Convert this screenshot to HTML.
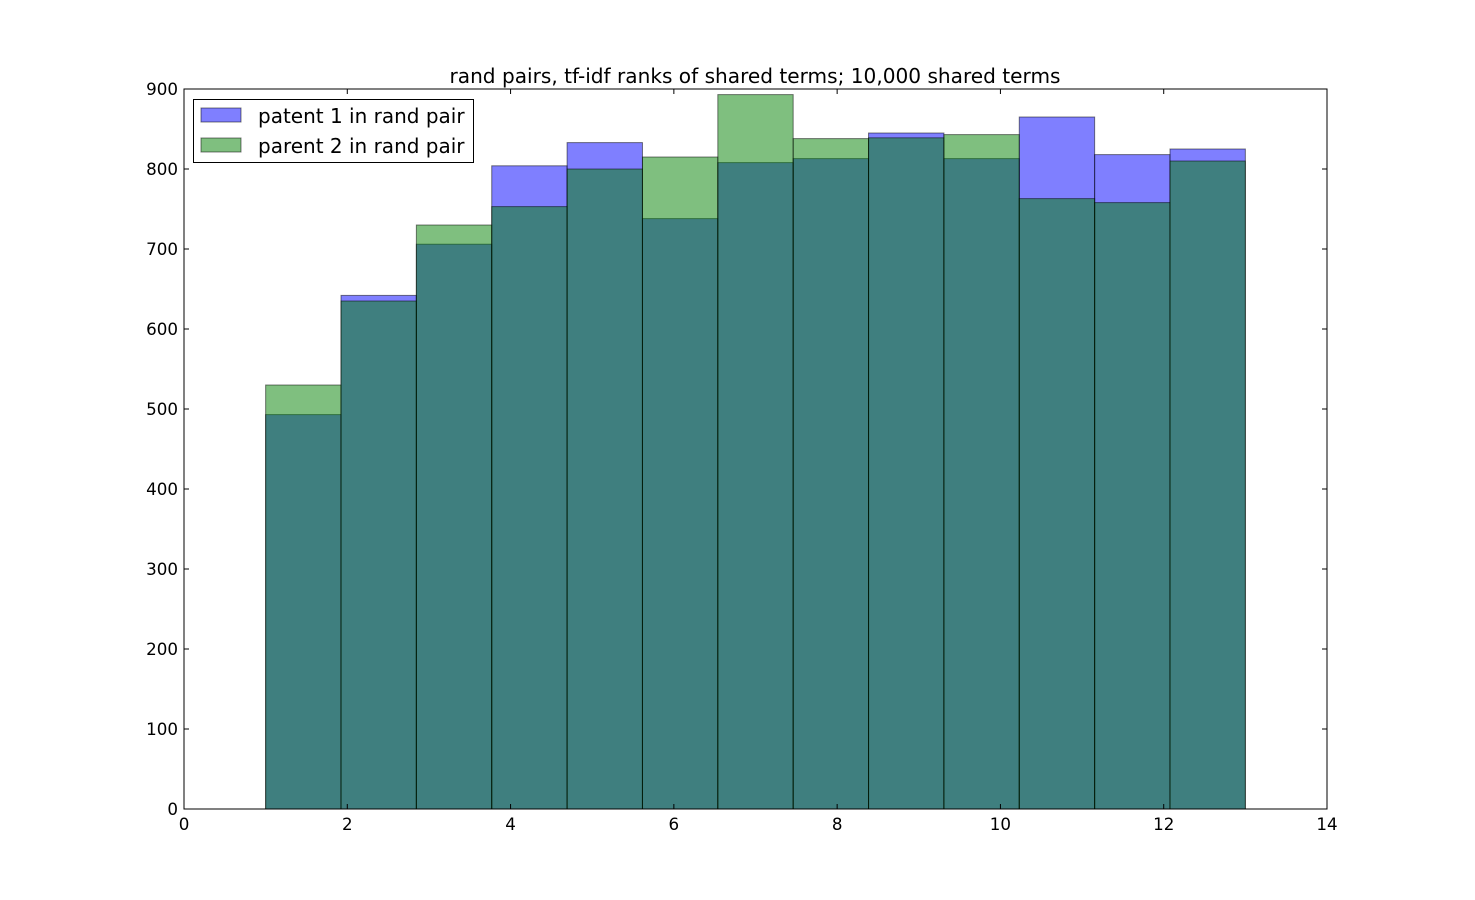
<!DOCTYPE html>
<html><head><meta charset="utf-8"><style>
body{margin:0;background:#fff;}
svg{display:block;font-family:"DejaVu Sans","Liberation Sans",sans-serif;}
</style></head><body>
<svg id="chart" width="1475" height="900">
<rect width="1475" height="900" fill="#fff"/>
<text x="755" y="83" font-size="20.1" text-anchor="middle">rand pairs, tf-idf ranks of shared terms; 10,000 shared terms</text>
<g id="bars"></g>
<rect x="184" y="89" width="1143" height="720" fill="none" stroke="#000" stroke-width="1"/>
<g id="ticks"></g>
<g>
<rect x="193.5" y="99.5" width="280" height="63" fill="#fff" stroke="#000"/>
<rect x="201" y="108" width="40" height="14" fill="rgba(0,0,255,0.5)" stroke="rgba(0,0,0,0.5)"/>
<text x="258" y="123" font-size="20">patent 1 in rand pair</text>
<rect x="201" y="138" width="40" height="14" fill="rgba(0,128,0,0.5)" stroke="rgba(0,0,0,0.5)"/>
<text x="258" y="153" font-size="20">parent 2 in rand pair</text>
</g>
</svg>
<script>
const binStart = 1, binEnd = 13, binCount = 13;
const patent1Values = [493,642,706,804,833,738,808,813,845,813,865,818,825];
const parent2Values = [530,635,730,753,800,815,893,838,839,843,763,758,810];
const xTicks = [0,2,4,6,8,10,12,14];
const yTicks = [0,100,200,300,400,500,600,700,800,900];
const NS="http://www.w3.org/2000/svg";
const X0=184,X1=1327,Y0=809,Y1=89;
const xs=v=>X0+(v-0)/14*(X1-X0);
const ys=v=>Y0-(v-0)/900*(Y0-Y1);
const bars=document.getElementById('bars');
const w=(binEnd-binStart)/binCount;
function drawSeries(vals,fill,name){
  vals.forEach((v,i)=>{
    const r=document.createElementNS(NS,'rect');
    const a=xs(binStart+i*w), b=xs(binStart+(i+1)*w);
    r.setAttribute('x',a);r.setAttribute('width',b-a);
    r.setAttribute('y',ys(v));r.setAttribute('height',Y0-ys(v));
    r.setAttribute('fill',fill);r.setAttribute('stroke','rgba(0,0,0,0.5)');
    
    
    bars.appendChild(r);
  });
}
drawSeries(patent1Values,'rgba(0,0,255,0.5)','patent1');
drawSeries(parent2Values,'rgba(0,128,0,0.5)','parent2');
const tg=document.getElementById('ticks');
function line(x1,y1,x2,y2){const l=document.createElementNS(NS,'line');l.setAttribute('x1',x1);l.setAttribute('y1',y1);l.setAttribute('x2',x2);l.setAttribute('y2',y2);l.setAttribute('stroke','#000');


tg.appendChild(l);}
xTicks.forEach(t=>{const x=xs(t);line(x,Y0,x,Y0-5);line(x,Y1,x,Y1+5);
 const tx=document.createElementNS(NS,'text');tx.setAttribute('x',x);tx.setAttribute('y',Y0+21);tx.setAttribute('font-size','16.7');tx.setAttribute('text-anchor','middle');tx.textContent=t;
 
 
 tg.appendChild(tx);});
yTicks.forEach(t=>{const y=ys(t);line(X0,y,X0+5,y);line(X1,y,X1-5,y);
 const tx=document.createElementNS(NS,'text');tx.setAttribute('x',X0-6);tx.setAttribute('y',y+6);tx.setAttribute('font-size','16.7');tx.setAttribute('text-anchor','end');tx.textContent=t;
 
 
 tg.appendChild(tx);});
</script>
</body></html>
